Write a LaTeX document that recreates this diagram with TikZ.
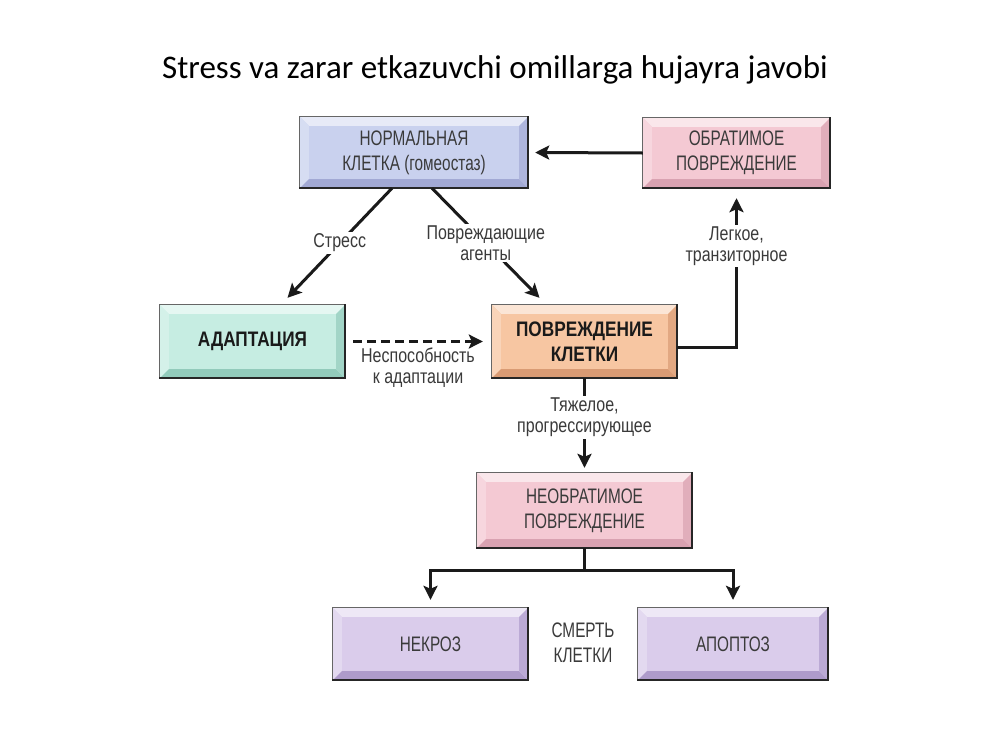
\documentclass[tikz,border=0pt]{standalone}
\usepackage{fontspec}
\setmainfont{Carlito}
\newfontfamily\cond[FakeStretch=0.73]{Liberation Sans}
\newfontfamily\condb[FakeStretch=0.82]{Liberation Sans Bold}
\newfontfamily\condl[FakeStretch=0.8]{Liberation Sans}
\usetikzlibrary{arrows.meta,calc}
\definecolor{normF}{HTML}{C9D1EE}\definecolor{normS}{HTML}{A2A9D4}
\definecolor{pinkF}{HTML}{F4C9D3}\definecolor{pinkS}{HTML}{D9A2B1}
\definecolor{mintF}{HTML}{C6EDE2}\definecolor{mintS}{HTML}{92CBBB}
\definecolor{peachF}{HTML}{F7C6A2}\definecolor{peachS}{HTML}{D99B74}
\definecolor{lilaF}{HTML}{DACCEB}\definecolor{lilaS}{HTML}{AE9BCB}
\definecolor{txt}{HTML}{3A3A3A}
\definecolor{ink}{HTML}{1A1A1A}
\newcommand\bevelbox[3]{%
 \fill[#2!45!white] (#1.north west) -- (#1.north east) -- ($(#1.north east)+(-9pt,-9pt)$) -- ($(#1.north west)+(9pt,-9pt)$) -- cycle;
 \fill[#2!75!white] (#1.north west) -- ($(#1.north west)+(9pt,-9pt)$) -- ($(#1.south west)+(9pt,9pt)$) -- (#1.south west) -- cycle;
 \fill[#3] (#1.south west) -- ($(#1.south west)+(9pt,9pt)$) -- ($(#1.south east)+(-9pt,9pt)$) -- (#1.south east) -- cycle;
 \fill[#3!70!#2] (#1.north east) -- (#1.south east) -- ($(#1.south east)+(-9pt,9pt)$) -- ($(#1.north east)+(-9pt,-9pt)$) -- cycle;
 \draw[edge] (#1.south west) -- (#1.north west) -- (#1.north east);
 \draw[edgeheavy] (#1.north east) -- (#1.south east) -- (#1.south west);
}
\tikzset{
 box/.style={inner sep=0pt, align=center, text=txt, font=\cond\fontsize{21}{25}\selectfont},
 boldbox/.style={box, text=ink, font=\condb\fontsize{21}{25}\selectfont},
 edge/.style={draw=black!60, line width=0.8pt},
 edgeheavy/.style={draw=black!85, line width=2.2pt, line cap=rect},
 conn/.style={draw=ink, line width=3pt, line join=miter},
 arr/.style={conn, -{Stealth[length=14pt,width=14pt,inset=3pt]}},
 lbl/.style={fill=white, inner sep=2pt, align=center, text=txt, font=\condl\fontsize{20}{21}\selectfont},
 title/.style={font=\fontsize{33}{38}\selectfont, text=black}
}
\begin{document}
\begin{tikzpicture}[x=1pt,y=-1pt]
\fill[white] (0,0) rectangle (1000,750);
\useasboundingbox (0,0) rectangle (1000,750);
\node[title] (t) at (495,70) {Stress va zarar etkazuvchi omillarga hujayra javobi};

\node[box, minimum width=228pt, minimum height=71pt, fill=normF] (norm) at (414,152.5) {НОРМАЛЬНАЯ\\КЛЕТКА (гомеостаз)};
\node[box, minimum width=187pt, minimum height=70pt, fill=pinkF] (obr) at (736.5,153) {ОБРАТИМОЕ\\ПОВРЕЖДЕНИЕ};
\node[boldbox, minimum width=185pt, minimum height=73pt, fill=mintF] (adapt) at (252.5,341.5) {АДАПТАЦИЯ};
\node[boldbox, minimum width=185pt, minimum height=73pt, fill=peachF] (povr) at (584.5,341.5) {ПОВРЕЖДЕНИЕ\\КЛЕТКИ};
\node[box, minimum width=215pt, minimum height=75pt, fill=pinkF] (neobr) at (584.5,510.5) {НЕОБРАТИМОЕ\\ПОВРЕЖДЕНИЕ};
\node[box, minimum width=195pt, minimum height=72pt, fill=lilaF] (nekr) at (430.5,644) {НЕКРОЗ};
\node[box, minimum width=190pt, minimum height=72pt, fill=lilaF] (apop) at (733,644) {АПОПТОЗ};
\node[box] (death) at (583,643) {СМЕРТЬ\\КЛЕТКИ};

\bevelbox{norm}{normF}{normS}
\bevelbox{obr}{pinkF}{pinkS}
\bevelbox{adapt}{mintF}{mintS}
\bevelbox{povr}{peachF}{peachS}
\bevelbox{neobr}{pinkF}{pinkS}
\bevelbox{nekr}{lilaF}{lilaS}
\bevelbox{apop}{lilaF}{lilaS}

\draw[arr] (obr.west) -- ([xshift=7pt]norm.east);
\draw[arr] ([xshift=-22pt]norm.south) -- ([xshift=35pt,yshift=7pt]adapt.north) node[lbl, midway] {Стресс};
\draw[arr] ([xshift=18pt]norm.south) -- ([xshift=-45pt,yshift=7pt]povr.north) node[lbl, midway] {Повреждающие\\агенты};
\draw[arr, dash pattern=on 9pt off 5pt] ([xshift=8pt]adapt.east) -- ([xshift=-9pt]povr.west) node[lbl, midway, below=3pt, fill=none] {Неспособность\\к адаптации};
\draw[arr] ([yshift=-6pt]povr.east) -| ([yshift=-10pt]obr.south) node[lbl, pos=0.84] {Легкое,\\транзиторное};
\draw[arr] (povr.south) -- ([yshift=5pt]neobr.north) node[lbl, pos=0.44] {Тяжелое,\\прогрессирующее};
\coordinate (fk) at (584.5,570);
\draw[conn] (neobr.south) -- (fk);
\draw[arr] (fk) -| ([yshift=8pt]nekr.north);
\draw[arr] (fk) -| ([yshift=8pt]apop.north);
\end{tikzpicture}
\end{document}
